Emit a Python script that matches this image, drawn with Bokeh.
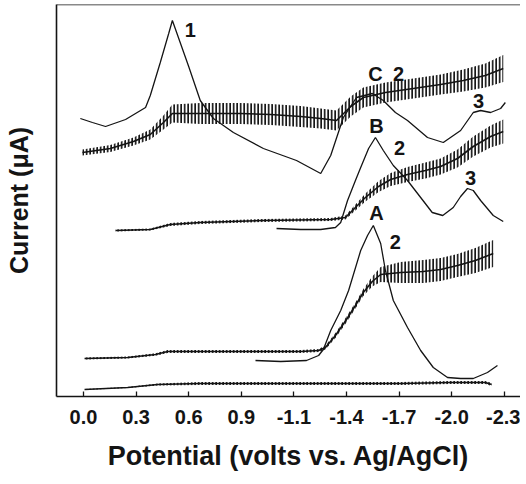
import numpy as np
from bokeh.plotting import figure
from bokeh.models import Range1d, FixedTicker, Span
from bokeh.core.properties import value
from bokeh.embed import file_html
from bokeh.resources import INLINE

# x values are in axis-position units (tick i sits at TICK_POS[i])
TICK_POS = [0, 1, 2, 3, 4, 5, 6, 7, 8]
TICK_LABELS = ["0.0", "0.3", "0.6", "0.9", "-1.1", "-1.4", "-1.7", "-2.0", "-2.3"]

# ---- C : smooth (differential) trace, peaks 1, 2, 3
c_smooth_x = [-0.06, 0.17, 0.42, 0.80, 1.18, 1.27, 1.46, 1.62, 1.69, 2.00, 2.22, 2.47, 2.85,
              3.42, 4.05, 4.51, 4.70, 4.94, 5.19, 5.49, 5.70, 5.93, 6.16, 6.54, 6.84, 7.17,
              7.41, 7.55, 7.74, 7.93, 8.02]
c_smooth_y = [27.8, 27.4, 27.0, 27.7, 28.9, 30.1, 33.4, 36.3, 37.6, 33.0, 29.6, 27.8, 26.4,
              24.8, 23.6, 22.3, 24.1, 27.9, 29.9, 30.3, 29.6, 28.4, 27.6, 25.9, 25.4, 26.6,
              28.4, 28.6, 28.4, 28.8, 29.4]
# ---- C : oscillating (polarographic) trace: mean and half-swing
c_wave_x = [-0.02, 0.51, 0.95, 1.27, 1.52, 1.69, 2.22, 2.98, 3.56, 4.13, 4.51, 4.81, 5.08,
            5.32, 5.74, 6.27, 6.79, 7.22, 7.64, 7.98]
c_wave_y = [24.4, 24.8, 25.5, 26.2, 27.4, 28.3, 28.3, 28.3, 28.2, 28.0, 27.8, 27.6, 29.0,
            29.9, 30.4, 30.8, 31.2, 31.6, 32.1, 32.8]
c_wave_h = [0.3, 0.35, 0.4, 0.5, 0.7, 0.9, 1.05, 1.05, 1.05, 1.05, 1.0, 1.0, 1.0,
            1.0, 1.0, 1.0, 1.0, 1.1, 1.2, 1.35]

# ---- B
b_smooth_x = [3.67, 4.13, 4.51, 4.79, 4.89, 5.02, 5.17, 5.27, 5.42, 5.55, 5.70, 5.89, 6.16,
              6.41, 6.63, 6.83, 7.03, 7.17, 7.30, 7.41, 7.55, 7.79, 7.98]
b_smooth_y = [16.8, 16.7, 16.7, 16.9, 17.4, 19.6, 21.6, 22.9, 24.8, 25.9, 24.6, 23.1, 21.6,
              19.9, 18.4, 18.1, 18.9, 20.0, 20.8, 20.6, 19.6, 18.1, 17.5]
b_wave_x = [0.61, 1.27, 1.65, 2.22, 3.42, 4.70, 4.98, 5.17, 5.36, 5.61, 5.84, 6.16, 6.50,
            6.79, 7.11, 7.41, 7.74, 7.98]
b_wave_y = [16.6, 16.7, 17.2, 17.4, 17.6, 17.7, 17.9, 18.9, 19.9, 21.0, 21.7, 22.2, 22.6,
            23.0, 23.8, 25.0, 26.0, 26.5]
b_wave_h = [0.1, 0.1, 0.15, 0.15, 0.15, 0.15, 0.2, 0.3, 0.4, 0.55, 0.65, 0.75, 0.8,
            0.8, 0.9, 1.0, 1.1, 1.2]

# ---- A
a_smooth_x = [3.27, 3.75, 4.24, 4.47, 4.56, 4.70, 4.89, 5.04, 5.27, 5.40, 5.51, 5.65, 5.74,
              5.89, 6.16, 6.41, 6.65, 6.92, 7.17, 7.41, 7.68, 7.87]
a_smooth_y = [3.6, 3.5, 3.6, 4.1, 4.7, 6.6, 8.6, 10.6, 14.6, 16.1, 17.1, 15.3, 12.6,
              9.6, 6.9, 4.6, 2.9, 1.9, 1.8, 1.8, 2.4, 3.1]
a_wave_x = [0.02, 0.84, 1.37, 1.60, 2.22, 3.17, 4.13, 4.47, 4.60, 4.79, 5.00, 5.17, 5.32,
            5.49, 5.65, 6.03, 6.46, 6.79, 7.11, 7.45, 7.79]
a_wave_y = [3.8, 3.9, 4.2, 4.5, 4.5, 4.5, 4.5, 4.6, 4.9, 6.1, 7.7, 9.1, 10.4,
            11.5, 12.2, 12.4, 12.5, 12.7, 13.1, 13.6, 14.3]
a_wave_h = [0.1, 0.1, 0.12, 0.15, 0.15, 0.15, 0.15, 0.15, 0.2, 0.25, 0.3, 0.3, 0.35,
            0.5, 0.75, 1.05, 1.15, 1.15, 1.15, 1.25, 1.35]

# ---- blank (bottom) oscillating trace
blank_x = [0.02, 0.84, 1.41, 2.22, 4.13, 6.03, 6.98, 7.64, 7.76]
blank_y = [0.7, 0.9, 1.2, 1.3, 1.3, 1.3, 1.4, 1.4, 1.2]
blank_h = [0.05, 0.05, 0.1, 0.15, 0.15, 0.15, 0.15, 0.15, 0.15]

# ---- peak / trace labels
label_text = ["1", "C", "2", "3", "B", "2", "3", "A", "2"]
label_x = [2.03, 5.55, 5.99, 7.51, 5.57, 6.01, 7.36, 5.57, 5.93]
label_y = [36.7, 32.3, 32.3, 29.6, 27.1, 24.9, 21.9, 18.4, 15.5]

INK = "#141414"
FONT = "Liberation Sans"

p = figure(width=520, height=484, output_backend="svg", toolbar_location=None,
           x_range=Range1d(-0.513, 8.308), y_range=Range1d(0, 39.2),
           min_border_left=56, min_border_right=0, min_border_top=4, min_border_bottom=88)
p.background_fill_color = "white"
p.border_fill_color = "white"
p.outline_line_color = None
p.grid.visible = False

xa = p.xaxis[0]
xa.ticker = FixedTicker(ticks=TICK_POS)
xa.major_label_overrides = {t: s for t, s in zip(TICK_POS, TICK_LABELS)}
xa.major_tick_in = 5
xa.major_tick_out = 0
xa.minor_tick_line_color = None
xa.axis_line_width = 1.6
xa.axis_line_color = INK
xa.major_tick_line_color = INK
xa.major_tick_line_width = 1.3
xa.major_label_text_font = FONT
xa.major_label_text_font_style = "bold"
xa.major_label_text_font_size = "20px"
xa.major_label_text_color = INK
xa.major_label_standoff = 13
xa.axis_label = "Potential (volts vs. Ag/AgCl)"
xa.axis_label_text_font = FONT
xa.axis_label_text_font_style = "bold"
xa.axis_label_text_font_size = "27px"
xa.axis_label_text_color = INK
xa.axis_label_standoff = 14

ya = p.yaxis[0]
ya.ticker = FixedTicker(ticks=[])
ya.minor_tick_line_color = None
ya.major_tick_line_color = None
ya.major_label_text_font_size = "0px"
ya.axis_line_width = 1.6
ya.axis_line_color = INK
ya.axis_label = "Current (\u03bcA)"
ya.axis_label_text_font = FONT
ya.axis_label_text_font_style = "bold"
ya.axis_label_text_font_size = "25px"
ya.axis_label_text_color = INK
ya.axis_label_standoff = 24

p.add_layout(Span(location=39.2, dimension="width", line_color=INK, line_width=1.6))


def wave(xs, ys, hs):
    xs = np.asarray(xs, float)
    ys = np.asarray(ys, float)
    hs = np.asarray(hs, float)
    p.varea(x=xs, y1=ys - hs, y2=ys + hs, fill_color=None, hatch_pattern="vertical_line",
            hatch_color=INK, hatch_scale=3.5, hatch_weight=1.8)
    p.line(xs, ys, line_color=INK, line_width=1.6)


wave(blank_x, blank_y, blank_h)
wave(a_wave_x, a_wave_y, a_wave_h)
wave(b_wave_x, b_wave_y, b_wave_h)
wave(c_wave_x, c_wave_y, c_wave_h)

for xs, ys in [(a_smooth_x, a_smooth_y), (b_smooth_x, b_smooth_y), (c_smooth_x, c_smooth_y)]:
    p.line(xs, ys, line_color=INK, line_width=1.3)

p.text(x=label_x, y=label_y, text=label_text, text_font=value(FONT), text_font_style="bold",
       text_font_size="20px", text_align="center", text_baseline="middle", text_color=INK)

open("out.html", "w").write(file_html(p, INLINE))
